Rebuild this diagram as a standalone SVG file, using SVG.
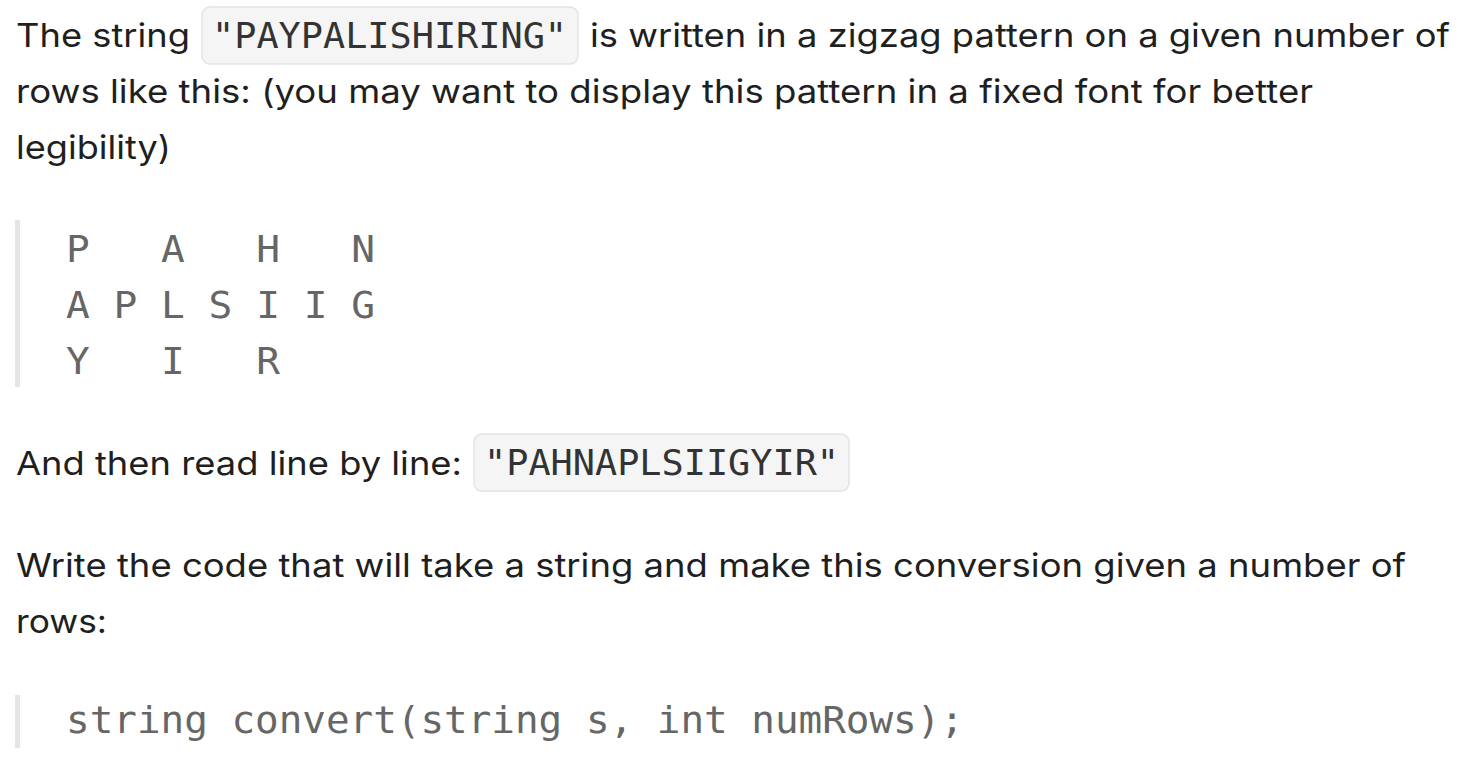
<svg xmlns="http://www.w3.org/2000/svg" width="1470" height="766" viewBox="0 0 1470 766">
<style>
.t{font-family:"Inter","Liberation Sans",sans-serif;font-size:33px;fill:#1f1f1f}
.m{font-family:"DejaVu Sans Mono","Liberation Mono",monospace;font-size:36px;fill:#333}
.q{font-family:"DejaVu Sans Mono","Liberation Mono",monospace;font-size:38px;fill:#666}
.c{fill:#f5f5f5;stroke:#e3e3e3;stroke-width:1.5}
.b{fill:#e5e5e5}
</style>
<rect width="1470" height="766" fill="#fff"/>
<text class="t" x="16" y="47" textLength="174" lengthAdjust="spacingAndGlyphs">The string</text>
<rect class="c" x="202" y="7" width="376" height="57" rx="8"/>
<text class="m" x="212" y="48" textLength="355" lengthAdjust="spacingAndGlyphs">"PAYPALISHIRING"</text>
<text class="t" x="590" y="47" textLength="860" lengthAdjust="spacingAndGlyphs">is written in a zigzag pattern on a given number of</text>
<text class="t" x="16" y="103" textLength="1297" lengthAdjust="spacingAndGlyphs">rows like this: (you may want to display this pattern in a fixed font for better</text>
<text class="t" x="16" y="159" textLength="155" lengthAdjust="spacingAndGlyphs">legibility)</text>
<rect class="b" x="15" y="220" width="5" height="167"/>
<text class="q" x="66" y="262" xml:space="preserve" textLength="309" lengthAdjust="spacingAndGlyphs">P   A   H   N</text>
<text class="q" x="66" y="318" xml:space="preserve" textLength="309" lengthAdjust="spacingAndGlyphs">A P L S I I G</text>
<text class="q" x="66" y="374" xml:space="preserve" textLength="214" lengthAdjust="spacingAndGlyphs">Y   I   R</text>
<text class="t" x="16" y="475" textLength="446" lengthAdjust="spacingAndGlyphs">And then read line by line:</text>
<rect class="c" x="474" y="434" width="375" height="57" rx="8"/>
<text class="m" x="484" y="475" textLength="355" lengthAdjust="spacingAndGlyphs">"PAHNAPLSIIGYIR"</text>
<text class="t" x="16" y="577" textLength="1390" lengthAdjust="spacingAndGlyphs">Write the code that will take a string and make this conversion given a number of</text>
<text class="t" x="16" y="633" textLength="91" lengthAdjust="spacingAndGlyphs">rows:</text>
<rect class="b" x="15" y="695" width="5" height="53"/>
<text class="q" x="66" y="733" textLength="898" lengthAdjust="spacingAndGlyphs">string convert(string s, int numRows);</text>
</svg>
